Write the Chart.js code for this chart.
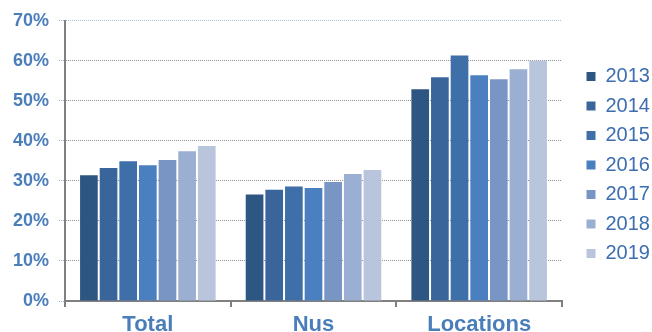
<!DOCTYPE html>
<html>
<head>
<meta charset="utf-8">
<script src="https://cdn.jsdelivr.net/npm/chart.js@4/dist/chart.umd.min.js"></script>
<style>
  html, body { margin: 0; padding: 0; background: #fff; }
  #wrap { width: 652px; height: 332px; }
</style>
</head>
<body>
<div id="wrap"><canvas id="chart"></canvas></div>
<script>
const categories = ["Total", "Nus", "Locations"];
const years = ["2013", "2014", "2015", "2016", "2017", "2018", "2019"];

// share per year, in percent: [Total, Nus, Locations]
const values2013 = [31.4, 26.6, 52.9];
const values2014 = [33.2, 27.8, 55.9];
const values2015 = [34.9, 28.6, 61.3];
const values2016 = [33.9, 28.2, 56.4];
const values2017 = [35.2, 29.7, 55.4];
const values2018 = [37.4, 31.7, 57.9];
const values2019 = [38.7, 32.7, 60.0];

const yTicks = [0, 10, 20, 30, 40, 50, 60, 70];

const allValues = [values2013, values2014, values2015, values2016, values2017, values2018, values2019];
const colors = ["#2e5682", "#3a659b", "#3f6fa9", "#4a80bf", "#7895c4", "#9aafd2", "#b8c5dc"];

const labelBlue = "#4a7ebb";
const font = "'Liberation Sans', Arial, sans-serif";

const datasets = years.map((year, i) => ({
  label: year,
  data: allValues[i],
  backgroundColor: colors[i],
  borderWidth: 0,
  barPercentage: 0.9,
  categoryPercentage: 0.83,
}));

// legend: fixed width so the plot ends where the original does
const legendPlacement = {
  id: "legendPlacement",
  beforeInit(chart) {
    const legend = chart.legend;
    const fit = legend.fit.bind(legend);
    legend.fit = function () {
      fit();
      this.width = 90;
    };
  },
  afterUpdate(chart) {
    const legend = chart.legend;
    legend.left = 577;
    legend.right = 652;
    legend.top = 57;
  },
};

new Chart(document.getElementById("chart"), {
  type: "bar",
  data: { labels: categories, datasets: datasets },
  options: {
    responsive: true,
    maintainAspectRatio: false,
    animation: false,
    layout: { padding: { top: 20, right: 0, left: 0, bottom: 0 } },
    plugins: {
      tooltip: { enabled: false },
      legend: {
        position: "right",
        align: "start",
        labels: {
          boxWidth: 9,
          boxHeight: 9,
          padding: 9.5,
          color: "#3c6eb0",
          font: { family: font, size: 20 },
        },
      },
    },
    scales: {
      x: {
        afterFit: (axis) => {
          axis.height = 31;
        },
        border: { color: "#808080", width: 2 },
        grid: {
          drawOnChartArea: false,
          drawTicks: true,
          tickLength: 6,
          tickColor: "#808080",
          lineWidth: 2,
        },
        ticks: {
          color: labelBlue,
          padding: 5,
          font: { family: font, size: 22, weight: "bold" },
        },
      },
      y: {
        min: 0,
        max: 70,
        afterBuildTicks: (axis) => {
          axis.ticks = yTicks.map((v) => ({ value: v }));
        },
        afterFit: (axis) => {
          axis.width = 65;
        },
        border: { color: "#808080", width: 2, dash: [1, 1] },
        grid: {
          color: (ctx) => (ctx.tick && ctx.tick.value === 70 ? "#a8c4e4" : "#909090"),
          tickColor: "#9db4cf",
          tickLength: 6,
          lineWidth: 1,
          tickBorderDash: [1, 1],
        },
        ticks: {
          color: labelBlue,
          padding: 10,
          callback: (v) => v + "%",
          font: { family: font, size: 18, weight: "bold" },
        },
      },
    },
  },
  plugins: [legendPlacement],
});
</script>
</body>
</html>
